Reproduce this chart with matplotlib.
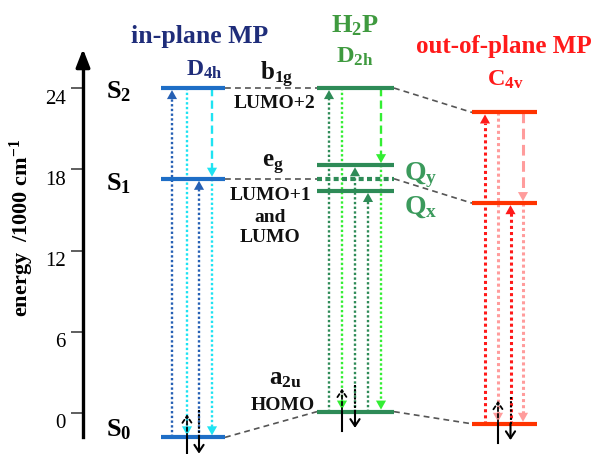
import matplotlib
matplotlib.use('Agg')
import matplotlib.pyplot as plt
from matplotlib.transforms import ScaledTranslation

plt.rcParams['font.family'] = 'Liberation Serif'
plt.rcParams['font.weight'] = 'bold'
plt.rcParams['mathtext.fontset'] = 'custom'
plt.rcParams['mathtext.rm'] = 'Liberation Serif:bold'
plt.rcParams['mathtext.it'] = 'Liberation Serif:bold'
plt.rcParams['mathtext.bf'] = 'Liberation Serif:bold'

# energies in 1000 cm-1
inplane = {'S2': 24.0, 'S1': 17.3, 'S0': -1.8}          # D4h
h2p = {'b1g': 24.0, 'Qy': 18.3, 'Qx': 16.4, 'HOMO': 0.1}  # D2h
h2p_eg = 17.3                                          # e_g reference (dotted)
outplane = {'S2': 22.2, 'S1': 15.5, 'S0': -0.8}        # C4v
energy_ticks = [0, 6, 12, 18, 24]

# transitions per column: (from, to, kind)  kind: abs = absorption, em = emission, ic = dashed relaxation
inplane_tr = [[('S0', 'S2', 'abs')], [('S2', 'S0', 'em')], [('S0', 'S1', 'abs')],
              [('S2', 'S1', 'ic'), ('S1', 'S0', 'em')]]
h2p_tr = [[('HOMO', 'b1g', 'abs')], [('b1g', 'HOMO', 'em')], [('HOMO', 'Qy', 'abs')],
          [('HOMO', 'Qx', 'abs')], [('b1g', 'Qy', 'ic'), ('Qy', 'HOMO', 'em')]]
outplane_tr = [[('S0', 'S2', 'abs')], [('S2', 'S0', 'em')], [('S0', 'S1', 'abs')],
               [('S2', 'S1', 'ic'), ('S1', 'S0', 'em')]]

# layout (pixel-like x, energy y)
Y0, SC = 413.0, 13.54
def ey(p):
    return (Y0 - p) / SC

fig = plt.figure(figsize=(5.98, 4.54), dpi=100)
ax = fig.add_axes([0, 0, 1, 1])
ax.set_xlim(0, 598)
ax.set_ylim(ey(454), ey(0))
for s in ['top', 'right', 'bottom']:
    ax.spines[s].set_visible(False)
ax.spines['left'].set_position(('data', 83))
ax.spines['left'].set_bounds(ey(437), ey(60))
ax.spines['left'].set_linewidth(2.4)
ax.set_xticks([])
ax.set_yticks(energy_ticks)
ax.tick_params(axis='y', direction='out', length=8.5, width=1.1, pad=4, labelsize=15, color='#333333')
for lbl in ax.get_yticklabels():
    lbl.set_fontweight('normal')
    lbl.set_transform(lbl.get_transform() + ScaledTranslation(0, -0.085, fig.dpi_scale_trans))
ax.annotate('', xy=(83, ey(49)), xytext=(83, ey(64)),
            arrowprops=dict(arrowstyle='-|>,head_length=0.9,head_width=0.35', color='black',
                            lw=2.4, shrinkA=0, shrinkB=0, mutation_scale=12))
ax.text(22, ey(228), 'energy  /1000 cm$^{-1}$', rotation=90, ha='center', va='center', fontsize=16)

columns = [
    (inplane, inplane_tr, 161, 225, [172, 187, 199, 212], '#1e6ec6', '#2660b4', '#1ee3f2', 1.7),
    (h2p, h2p_tr, 317, 394, [329, 342, 355, 368, 381], '#2e8b57', '#2e8b57', '#33ee33', 1.7),
    (outplane, outplane_tr, 472, 537, [485, 498, 510.5, 523], '#ff3300', '#ff1a1a', '#ff9c9c', 2.2),
]

def head(x, e0, e1, color):
    ax.annotate('', xy=(x, e1), xytext=(x, e0),
                arrowprops=dict(arrowstyle='-|>,head_length=0.5,head_width=0.28', color=color,
                                lw=0, shrinkA=0, shrinkB=0, mutation_scale=13))

for levels, trans, x0, x1, xs, lcol, dark, light, lw in columns:
    for x, segs in zip(xs, trans):
        for a, b, kind in segs:
            ea, eb = levels[a], levels[b]
            d = 1 if eb > ea else -1
            tip = eb - d * 0.15
            base = tip - d * 0.6
            if kind == 'abs':
                col, ls = dark, (0, (1, 1))
            elif kind == 'em':
                col, ls = light, (0, (1, 1))
            else:
                col, ls = light, (0, (3.5, 1.8))
            ax.plot([x, x], [ea, base], color=col, lw=lw, ls=ls, dash_capstyle='butt', zorder=2)
            head(x, base, tip, col)
    for e in levels.values():
        ax.plot([x0, x1], [e, e], color=lcol, lw=3, solid_capstyle='butt', zorder=3)

# dotted e_g in H2P
ax.plot([317, 394], [h2p_eg, h2p_eg], color='#2e8b57', lw=3, ls=(0, (1.2, 0.8)), zorder=3)

# correlation lines
gray = dict(color='#555555', lw=1.2, ls=(0, (3.5, 2.5)), zorder=1)
ax.plot([225, 317], [inplane['S2'], h2p['b1g']], **gray)
ax.plot([225, 317], [inplane['S1'], h2p_eg], **gray)
ax.plot([225, 317], [inplane['S0'], h2p['HOMO']], **gray)
ax.plot([394, 472], [h2p['b1g'], outplane['S2']], **gray)
ax.plot([394, 472], [h2p_eg, outplane['S1']], **gray)
ax.plot([394, 472], [h2p['HOMO'], outplane['S0']], **gray)

# electron pairs on ground levels
def pair(xu, xd, e):
    ax.plot([xu, xu], [e - 1.4, e], color='black', lw=1.5, zorder=4)
    ax.annotate('', xy=(xu, e + 1.7), xytext=(xu, e),
                arrowprops=dict(arrowstyle='->,head_length=0.45,head_width=0.3', color='black',
                                lw=1.3, ls=(0, (2, 1.5)), shrinkA=0, shrinkB=0, mutation_scale=11), zorder=4)
    ax.plot([xd, xd], [e + 2.0, e], color='black', lw=1.5, ls=(0, (1, 1)), zorder=4)
    ax.annotate('', xy=(xd, e - 1.2), xytext=(xd, e),
                arrowprops=dict(arrowstyle='->,head_length=0.45,head_width=0.3', color='black',
                                lw=1.5, shrinkA=0, shrinkB=0, mutation_scale=11), zorder=4)

pair(187, 199, inplane['S0'])
pair(342, 355, h2p['HOMO'])
pair(498, 510.5, outplane['S0'])

navy, green, red = '#1f2d7a', '#3f9a3f', '#ff1a1a'
labels = [
    ('in-plane MP', 200, 37, navy, 18.5),
    ('D$_{4h}$', 204, 70, navy, 17),
    ('S$_2$', 119, 92, 'black', 19),
    ('S$_1$', 119, 184, 'black', 19),
    ('S$_0$', 119, 430, 'black', 19),
    ('b$_{1g}$', 277, 75, '#111111', 18),
    ('LUMO+2', 275, 103, '#111111', 14),
    ('e$_g$', 273, 165, '#111111', 18),
    ('LUMO+1', 270, 195, '#111111', 14),
    ('and', 270, 217, '#111111', 14),
    ('LUMO', 270, 238, '#111111', 14),
    ('a$_{2u}$', 285, 379, '#111111', 18),
    ('HOMO', 283, 405, '#111111', 14),
    ('H$_2$P', 355, 26, green, 19),
    ('D$_{2h}$', 355, 57, green, 17.5),
    ('Q$_y$', 421, 175, '#3b9a5c', 20),
    ('Q$_x$', 421, 207, '#3b9a5c', 20),
    ('out-of-plane MP', 504, 46, red, 18),
    ('C$_{4v}$', 505, 80, red, 17.5),
]
for t, x, y, c, fs in labels:
    ax.text(x, ey(y), t, color=c, fontsize=fs, ha='center', va='center')

fig.savefig('out.png', dpi=100)
